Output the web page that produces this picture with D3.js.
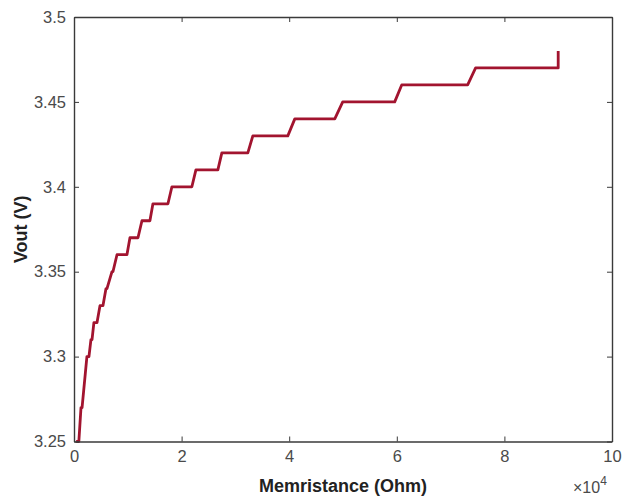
<!DOCTYPE html>
<html>
<head>
<meta charset="utf-8">
<script src="https://cdn.jsdelivr.net/npm/d3@7"></script>
<style>
  html, body { margin: 0; padding: 0; background: #fff; }
  svg { display: block; }
  text { font-family: "Liberation Sans", Arial, sans-serif; }
</style>
</head>
<body>
<svg id="chart" width="622" height="496"></svg>
<script>
// Output voltage versus memristance (staircase response)
const memristance = [400, 900, 1100, 1300, 1500, 1800, 2100, 2400, 2780, 3150, 3350, 3700, 4270,
  4830, 5380, 5940, 6130, 7060, 7240, 7990, 9840, 10400, 11890, 12630, 14110,
  14670, 17460, 18200, 21910, 22660, 26740, 27480, 32310, 33240, 39740,
  41040, 48470, 49950, 59610, 60910, 73170, 74650, 90000, 90000];
const vout = [3.25, 3.25, 3.26, 3.27, 3.27, 3.28, 3.29, 3.30, 3.30, 3.31, 3.31, 3.32, 3.32,
  3.33, 3.33, 3.34, 3.34, 3.35, 3.35, 3.36, 3.36, 3.37, 3.37, 3.38, 3.38,
  3.39, 3.39, 3.40, 3.40, 3.41, 3.41, 3.42, 3.42, 3.43, 3.43,
  3.44, 3.44, 3.45, 3.45, 3.46, 3.46, 3.47, 3.47, 3.48];

const xTicks = [0, 20000, 40000, 60000, 80000, 100000];
const xTickLabels = ["0", "2", "4", "6", "8", "10"];
const yTicks = [3.25, 3.3, 3.35, 3.4, 3.45, 3.5];
const yTickLabels = ["3.25", "3.3", "3.35", "3.4", "3.45", "3.5"];

const svg = d3.select("#chart");
const plotL = 74, plotR = 612, plotT = 17, plotB = 441.5;

const x = d3.scaleLinear().domain([0, 100000]).range([plotL, plotR]);
const y = d3.scaleLinear().domain([3.25, 3.5]).range([plotB, plotT]);

const axisColor = "#3a3a3a";
const labelColor = "#4a4a4a";

// data line
const pts = memristance.map((m, i) => [m, vout[i]]);
svg.append("path")
  .datum(pts)
  .attr("fill", "none")
  .attr("stroke", "#A2142F")
  .attr("stroke-width", 2.8)
  .attr("stroke-linejoin", "round")
  .attr("d", d3.line().x(d => x(d[0])).y(d => y(d[1])));

// axes: bottom/left with labels, top/right ticks only (inward ticks)
const bottomAxis = d3.axisBottom(x).tickValues(xTicks).tickSizeInner(-5).tickSizeOuter(0)
  .tickPadding(9).tickFormat((d, i) => xTickLabels[i]);
const topAxis = d3.axisTop(x).tickValues(xTicks).tickSizeInner(-5).tickSizeOuter(0).tickFormat("");
const leftAxis = d3.axisLeft(y).tickValues(yTicks).tickSizeInner(-5).tickSizeOuter(0)
  .tickPadding(8).tickFormat((d, i) => yTickLabels[i]);
const rightAxis = d3.axisRight(y).tickValues(yTicks).tickSizeInner(-5).tickSizeOuter(0).tickFormat("");

function styleAxis(g) {
  g.select(".domain").attr("stroke", axisColor).attr("stroke-width", 1.4);
  g.selectAll(".tick line").attr("stroke", axisColor).attr("stroke-width", 1);
  g.selectAll(".tick text").attr("fill", labelColor).style("font-size", "16.5px")
    .style("font-family", "'Liberation Sans', Arial, sans-serif");
}

svg.append("g").attr("transform", `translate(0,${plotB})`).call(bottomAxis).call(styleAxis);
svg.append("g").attr("transform", `translate(0,${plotT})`).call(topAxis).call(styleAxis);
svg.append("g").attr("transform", `translate(${plotL},0)`).call(leftAxis).call(styleAxis);
svg.append("g").attr("transform", `translate(${plotR},0)`).call(rightAxis).call(styleAxis);

// axis titles
svg.append("text")
  .attr("x", 343).attr("y", 492)
  .attr("text-anchor", "middle")
  .attr("fill", "#222")
  .style("font-size", "18px").style("font-weight", "bold")
  .text("Memristance (Ohm)");

svg.append("text")
  .attr("transform", `translate(27,${(plotT + plotB) / 2}) rotate(-90)`)
  .attr("text-anchor", "middle")
  .attr("fill", "#222")
  .style("font-size", "18px").style("font-weight", "bold")
  .text("Vout (V)");

// exponent multiplier
const expo = svg.append("text")
  .attr("x", 573).attr("y", 493)
  .attr("fill", labelColor)
  .style("font-size", "16px");
expo.append("tspan").text("\u00d710");
expo.append("tspan").attr("dy", -8).style("font-size", "12px").text("4");
</script>
</body>
</html>
